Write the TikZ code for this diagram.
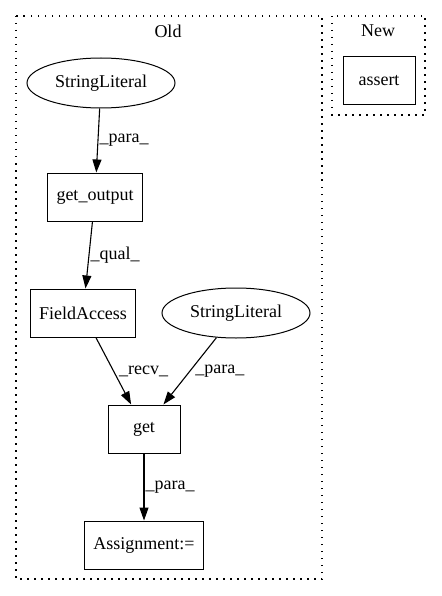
\documentclass[tikz,border=0pt]{standalone}
\usepackage{fontspec}
\setmainfont{Liberation Serif}
\usetikzlibrary{positioning, arrows.meta, shapes.geometric}

\begin{document}
\begin{tikzpicture}[x=1pt,y=-1pt,>={Triangle[length=13pt,width=9pt]},
    every node/.style={font=\fontsize{18}{22}\selectfont},
    op/.style={draw, line width=1pt, rectangle, minimum height=48pt, minimum width=72pt, inner xsep=9pt},
    lit/.style={draw, line width=1pt, ellipse, minimum height=50pt, minimum width=148pt, inner sep=0pt},
    lbl/.style={right, inner sep=1pt},
    cluster/.style={draw, line width=1.2pt, dash pattern=on 1.5pt off 5.5pt}]
    \useasboundingbox (0,0) rectangle (441,596);

    % clusters
    \draw[cluster] (16,16) rectangle (322,579);
    \node (old) at (168,31) {Old};
    \draw[cluster] (332,16) rectangle (425,115);
    \node (new) at (378,31) {New};

    \node[lit] (lit1) at (101,83) {StringLiteral};
    \node[op] (getout) at (95,197) {get\_output};
    \node[op] (field) at (83,313) {FieldAccess};
    \node[lit] (lit2) at (236,313) {StringLiteral};
    \node[op] (get) at (144,429) {get};
    \node[op] (assign) at (144,545) {Assignment:=};
    \node[op] (assert) at (379,81) {assert};

    \path[->, line width=1.1pt]
    (lit1) edge node[lbl] {\_para\_} (getout)
    (getout) edge node[lbl] {\_qual\_} (field)
    (field) edge node[lbl, xshift=4pt] {\_recv\_} (get)
    (lit2) edge node[lbl, xshift=4pt] {\_para\_} (get)
    (get) edge node[lbl] {\_para\_} (assign)
    ;
\end{tikzpicture}
\end{document}
